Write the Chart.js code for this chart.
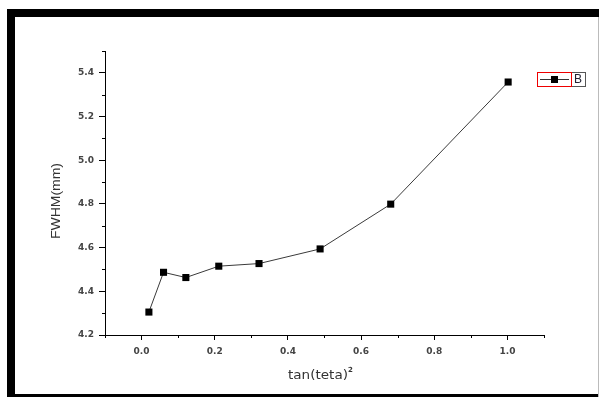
<!DOCTYPE html>
<html>
<head>
<meta charset="utf-8">
<script src="https://cdn.jsdelivr.net/npm/chart.js@4/dist/chart.umd.min.js"></script>
<style>
  html, body { margin: 0; padding: 0; background: #fff; }
  #wrap { position: relative; width: 599px; height: 397px; overflow: hidden; }
  #frame {
    position: absolute; left: 7px; top: 9px; width: 600px; height: 400px;
    border-left: 8px solid #000; border-top: 8px solid #000;
    box-sizing: border-box; pointer-events: none;
  }
  #bottomBar { position: absolute; left: 7px; top: 394px; width: 600px; height: 3px; background: #000; }
  #edgeRight { position: absolute; left: 598px; top: 17px; width: 1px; height: 380px; background: #bbb; }
  canvas { position: absolute; left: 0; top: 0; }
</style>
</head>
<body>
<div id="wrap">
  <canvas id="chart" width="599" height="397"></canvas>
  <div id="frame"></div>
  <div id="bottomBar"></div>
  <div id="edgeRight"></div>
</div>
<script>
// data
const tanTeta2 = [0.02, 0.06, 0.121, 0.211, 0.321, 0.488, 0.681, 1.002];
const fwhm = [4.305, 4.487, 4.463, 4.515, 4.527, 4.594, 4.799, 5.358];

const xMajorTicks = [0.0, 0.2, 0.4, 0.6, 0.8, 1.0];
const xMinorTicks = [-0.1, 0.1, 0.3, 0.5, 0.7, 0.9, 1.1];
const yMajorTicks = [4.2, 4.4, 4.6, 4.8, 5.0, 5.2, 5.4];
const yMinorTicks = [4.3, 4.5, 4.7, 4.9, 5.1, 5.3, 5.5];

const seriesName = "B";
const xTitle = "tan(teta)";
const yTitle = "FWHM(mm)";

const tickFont = { family: "'DejaVu Sans', Arial", size: 9, weight: "bold" };

// minor ticks, axis titles and the boxed legend
const extrasPlugin = {
  id: "extras",
  afterDraw(chart) {
    const c = chart.ctx;
    const xs = chart.scales.x;
    const ys = chart.scales.y;
    const area = chart.chartArea;

    c.save();
    c.strokeStyle = "#000";
    c.lineWidth = 1;
    c.beginPath();
    xMinorTicks.forEach((v) => {
      const px = Math.round(xs.getPixelForValue(v)) + 0.5;
      c.moveTo(px, area.bottom);
      c.lineTo(px, area.bottom + 3);
    });
    yMinorTicks.forEach((v) => {
      const py = Math.round(ys.getPixelForValue(v)) + 0.5;
      c.moveTo(area.left, py);
      c.lineTo(area.left - 3, py);
    });
    c.stroke();

    // y title
    c.fillStyle = "#333";
    c.font = "12px Arial, 'Liberation Sans'";
    c.textAlign = "center";
    c.textBaseline = "middle";
    c.save();
    c.translate(57, 201);
    c.rotate(-Math.PI / 2);
    const w = c.measureText(yTitle).width;
    c.scale(76 / w, 1);
    c.fillText(yTitle, 0, 0);
    c.restore();

    // x title with superscript
    c.font = "12px 'DejaVu Sans', Arial";
    c.textAlign = "left";
    c.textBaseline = "alphabetic";
    const tw = c.measureText(xTitle).width;
    c.save();
    c.translate(288, 379);
    c.scale(60 / tw, 1);
    c.fillText(xTitle, 0, 0);
    c.restore();
    c.font = "bold 7px 'DejaVu Sans', Arial";
    c.fillText("2", 348, 372);

    // legend
    const lx = 537, ly = 72, lw = 48, lh = 14;
    c.strokeStyle = "#555";
    c.strokeRect(lx + 0.5, ly + 0.5, lw, lh);
    c.strokeStyle = "#e00";
    c.strokeRect(lx + 0.5, ly + 0.5, 34, lh);
    c.strokeStyle = "#333";
    c.beginPath();
    c.moveTo(lx + 3, ly + 7.5);
    c.lineTo(lx + 32, ly + 7.5);
    c.stroke();
    c.fillStyle = "#000";
    c.fillRect(lx + 14, ly + 4, 7, 7);
    c.fillStyle = "#223";
    c.font = "12px Arial, 'Liberation Sans'";
    c.textAlign = "center";
    c.textBaseline = "middle";
    c.fillText(seriesName, lx + 41, ly + 8);
    c.restore();
  },
};

new Chart(document.getElementById("chart"), {
  type: "line",
  data: {
    datasets: [
      {
        label: seriesName,
        data: tanTeta2.map((x, i) => ({ x: x, y: fwhm[i] })),
        borderColor: "#3a3a3a",
        borderWidth: 1,
        pointStyle: "rect",
        pointRadius: 5,
        pointBackgroundColor: "#000",
        pointBorderColor: "#000",
        pointBorderWidth: 0,
        tension: 0,
      },
    ],
  },
  options: {
    responsive: false,
    animation: false,
    layout: { padding: { left: 0, top: 51, right: 55, bottom: 0 } },
    plugins: { legend: { display: false }, tooltip: { enabled: false } },
    scales: {
      x: {
        type: "linear",
        min: -0.1,
        max: 1.1,
        afterBuildTicks: (s) => { s.ticks = xMajorTicks.map((v) => ({ value: v })); },
        afterFit: (s) => { s.height = 62; },
        ticks: {
          font: tickFont,
          color: "#444",
          padding: 6,
          maxRotation: 0,
          callback: (v) => v.toFixed(1),
        },
        grid: { drawOnChartArea: false, tickLength: 5, color: "#000" },
        border: { color: "#000", width: 1 },
      },
      y: {
        type: "linear",
        min: 4.2,
        max: 5.5,
        afterBuildTicks: (s) => { s.ticks = yMajorTicks.map((v) => ({ value: v })); },
        afterFit: (s) => { s.width = 105; },
        ticks: {
          font: tickFont,
          color: "#444",
          padding: 5,
          callback: (v) => v.toFixed(1),
        },
        grid: { drawOnChartArea: false, tickLength: 6, color: "#000" },
        border: { color: "#000", width: 1 },
      },
    },
  },
  plugins: [extrasPlugin],
});
</script>
</body>
</html>
